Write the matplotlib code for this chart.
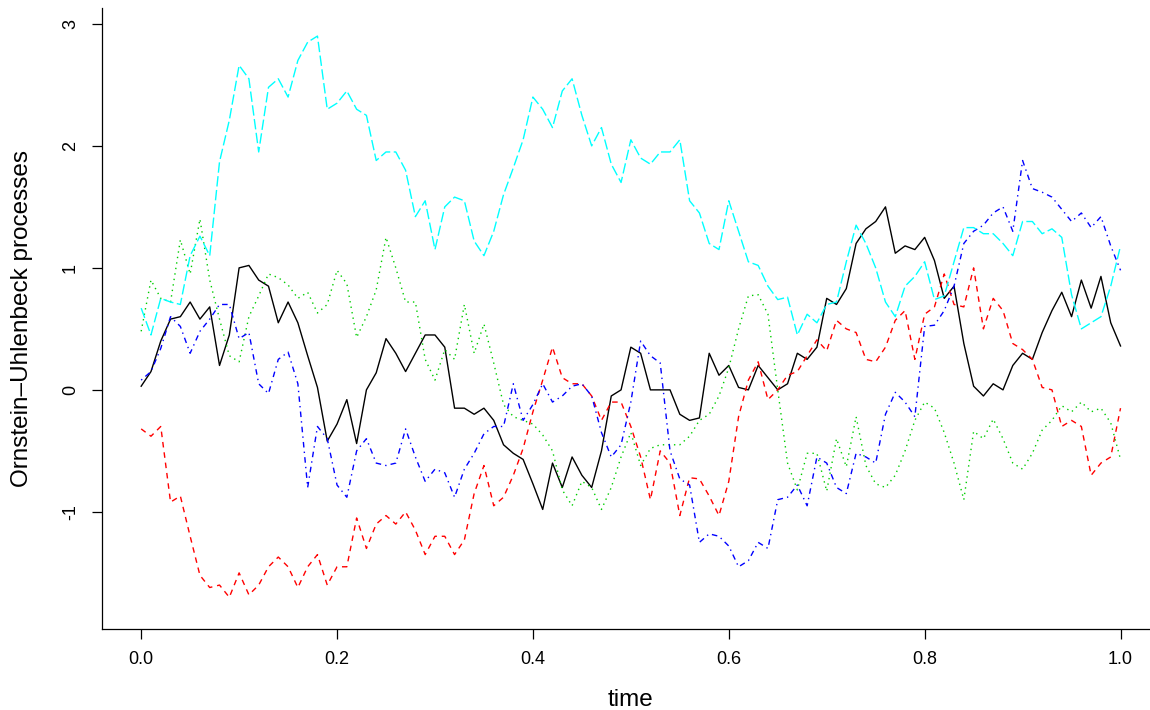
import numpy as np
import matplotlib
matplotlib.use("Agg")
import matplotlib.pyplot as plt

plt.rcParams['font.family'] = ['Liberation Sans', 'DejaVu Sans']
plt.rcParams['axes.unicode_minus'] = False

# time grid (101 observations)
time = np.linspace(0.0, 1.0, 101)

black = [0.03, 0.15, 0.40, 0.58, 0.60, 0.72, 0.58, 0.68, 0.20, 0.45,
         1.00, 1.02, 0.90, 0.85, 0.55, 0.72, 0.55, 0.28, 0.02, -0.42,
         -0.28, -0.08, -0.44, 0.00, 0.14, 0.42, 0.30, 0.15, 0.30, 0.45,
         0.45, 0.35, -0.15, -0.15, -0.20, -0.15, -0.25, -0.45, -0.52, -0.57,
         -0.77, -0.98, -0.60, -0.80, -0.55, -0.70, -0.80, -0.50, -0.05, 0.00,
         0.35, 0.30, 0.00, 0.00, 0.00, -0.20, -0.25, -0.23, 0.30, 0.12,
         0.20, 0.02, 0.00, 0.20, 0.10, 0.00, 0.05, 0.30, 0.25, 0.35,
         0.75, 0.70, 0.83, 1.20, 1.32, 1.38, 1.50, 1.12, 1.18, 1.15,
         1.25, 1.06, 0.75, 0.85, 0.38, 0.03, -0.05, 0.05, 0.00, 0.20,
         0.30, 0.25, 0.47, 0.65, 0.80, 0.60, 0.90, 0.67, 0.93, 0.55,
         0.36]

red = [-0.32, -0.38, -0.30, -0.92, -0.87, -1.20, -1.52, -1.62, -1.60, -1.70,
       -1.50, -1.68, -1.60, -1.45, -1.37, -1.45, -1.62, -1.45, -1.35, -1.60,
       -1.45, -1.45, -1.05, -1.30, -1.10, -1.03, -1.10, -1.00, -1.15, -1.35,
       -1.20, -1.20, -1.35, -1.23, -0.85, -0.62, -0.95, -0.88, -0.70, -0.48,
       -0.18, 0.08, 0.35, 0.10, 0.05, 0.05, -0.05, -0.25, -0.10, -0.10,
       -0.30, -0.55, -0.90, -0.50, -0.60, -1.03, -0.72, -0.73, -0.87, -1.03,
       -0.75, -0.22, 0.08, 0.23, -0.08, 0.00, 0.12, 0.15, 0.28, 0.41,
       0.32, 0.57, 0.50, 0.47, 0.25, 0.23, 0.35, 0.57, 0.65, 0.25,
       0.62, 0.68, 0.95, 0.70, 0.68, 1.00, 0.50, 0.75, 0.65, 0.38,
       0.33, 0.25, 0.02, 0.00, -0.30, -0.25, -0.30, -0.70, -0.60, -0.55,
       -0.15]

green = [0.48, 0.90, 0.75, 0.72, 1.23, 0.95, 1.40, 0.90, 0.58, 0.28,
         0.23, 0.60, 0.77, 0.95, 0.92, 0.86, 0.75, 0.80, 0.63, 0.70,
         0.98, 0.87, 0.43, 0.60, 0.82, 1.25, 1.00, 0.72, 0.72, 0.25,
         0.08, 0.33, 0.25, 0.70, 0.30, 0.54, 0.22, -0.12, -0.22, -0.25,
         -0.28, -0.37, -0.50, -0.82, -0.95, -0.75, -0.80, -0.98, -0.80, -0.55,
         -0.35, -0.62, -0.48, -0.45, -0.45, -0.45, -0.38, -0.25, -0.20, -0.05,
         0.18, 0.50, 0.77, 0.78, 0.62, 0.00, -0.60, -0.82, -0.52, -0.52,
         -0.83, -0.40, -0.63, -0.22, -0.62, -0.77, -0.80, -0.70, -0.50, -0.25,
         -0.10, -0.15, -0.35, -0.60, -0.90, -0.34, -0.40, -0.24, -0.40, -0.60,
         -0.65, -0.52, -0.33, -0.25, -0.13, -0.18, -0.10, -0.18, -0.15, -0.27,
         -0.57]

blue = [0.08, 0.15, 0.34, 0.60, 0.52, 0.30, 0.48, 0.58, 0.70, 0.70,
        0.42, 0.47, 0.05, -0.03, 0.25, 0.31, 0.05, -0.80, -0.30, -0.40,
        -0.78, -0.88, -0.50, -0.40, -0.60, -0.62, -0.60, -0.32, -0.55, -0.75,
        -0.65, -0.68, -0.88, -0.65, -0.52, -0.36, -0.30, -0.30, 0.05, -0.25,
        -0.12, 0.05, -0.10, -0.05, 0.03, 0.05, -0.05, -0.35, -0.55, -0.45,
        -0.10, 0.40, 0.28, 0.22, -0.50, -0.73, -0.78, -1.25, -1.18, -1.20,
        -1.28, -1.45, -1.40, -1.25, -1.30, -0.90, -0.88, -0.78, -0.95, -0.55,
        -0.60, -0.80, -0.85, -0.52, -0.55, -0.60, -0.20, -0.02, -0.10, -0.22,
        0.52, 0.53, 0.65, 0.85, 1.20, 1.30, 1.35, 1.45, 1.50, 1.30,
        1.88, 1.65, 1.62, 1.58, 1.48, 1.38, 1.45, 1.33, 1.42, 1.18,
        0.98]

cyan = [0.67, 0.45, 0.75, 0.72, 0.70, 1.10, 1.26, 1.10, 1.87, 2.21,
        2.66, 2.55, 1.95, 2.48, 2.55, 2.40, 2.70, 2.85, 2.90, 2.30,
        2.35, 2.45, 2.30, 2.25, 1.88, 1.95, 1.95, 1.80, 1.42, 1.55,
        1.15, 1.50, 1.58, 1.55, 1.22, 1.10, 1.30, 1.60, 1.82, 2.05,
        2.40, 2.30, 2.15, 2.45, 2.55, 2.25, 2.00, 2.15, 1.85, 1.70,
        2.05, 1.90, 1.85, 1.95, 1.95, 2.05, 1.55, 1.45, 1.20, 1.15,
        1.55, 1.30, 1.05, 1.02, 0.85, 0.74, 0.76, 0.45, 0.62, 0.55,
        0.70, 0.72, 1.05, 1.35, 1.20, 1.00, 0.72, 0.60, 0.85, 0.93,
        1.05, 0.74, 0.77, 1.05, 1.33, 1.33, 1.28, 1.28, 1.20, 1.10,
        1.38, 1.38, 1.28, 1.32, 1.25, 0.78, 0.50, 0.55, 0.60, 0.85,
        1.18]

series = [black, red, green, blue, cyan]
colors = ['#000000', '#FF0000', '#00CD00', '#0000FF', '#00FFFF']
dash_patterns = [None, (4, 3.5), (1, 3), (1, 3, 4, 3), (7.5, 2.5)]

xticks = [0.0, 0.2, 0.4, 0.6, 0.8, 1.0]
xticklabels = ['0.0', '0.2', '0.4', '0.6', '0.8', '1.0']
yticks = [-1, 0, 1, 2, 3]
yticklabels = ['-1', '0', '1', '2', '3']

W, H = 1150, 710
fig = plt.figure(figsize=(W / 100, H / 100), dpi=100)
ax = fig.add_axes([102 / W, 81 / H, 1057.7 / W, 621 / H])

for vals, col, dp in zip(series, colors, dash_patterns):
    line, = ax.plot(time, vals, color=col, lw=1.0, solid_joinstyle='round')
    if dp is not None:
        line.set_dashes(dp)

ax.set_xlim(-0.04, 1.04)
ax.set_ylim(-1.96, 3.13)

for s in ['top', 'right']:
    ax.spines[s].set_visible(False)
for s in ['left', 'bottom']:
    ax.spines[s].set_linewidth(0.9)

ax.set_xticks(xticks)
ax.set_xticklabels(xticklabels)
ax.set_yticks(yticks)
ax.set_yticklabels(yticklabels, rotation=90, va='center')
ax.tick_params(axis='both', direction='out', length=7.5, width=0.9,
               labelsize=13, colors='black')
ax.tick_params(axis='x', pad=8)
ax.tick_params(axis='y', pad=9)

fig.text(631 / W, 1 - 706 / H, 'time', ha='center', va='baseline', fontsize=17.5)
fig.text(22 / W, 1 - 318 / H, 'Ornstein\u2013Uhlenbeck processes', rotation=90,
         ha='center', va='center', fontsize=17.5)

fig.savefig('out.png', dpi=100)
